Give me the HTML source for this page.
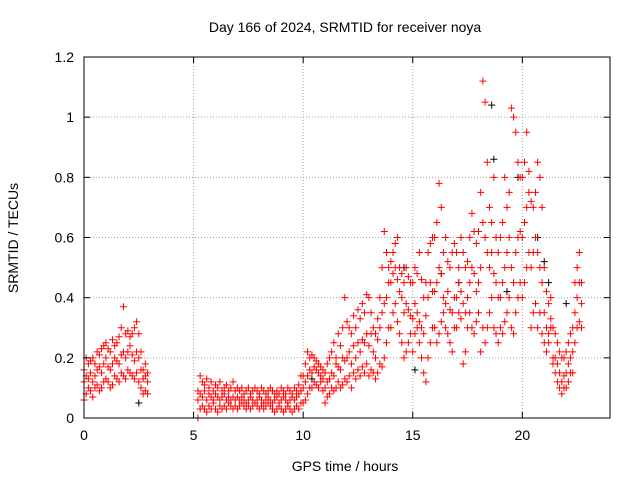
<!DOCTYPE html>
<html><head><meta charset="utf-8"><style>
body{margin:0;background:#fff;}
svg text{font-family:"Liberation Sans",sans-serif;font-size:14px;fill:#000;}
</style></head><body>
<svg id="chart" width="640" height="480" xmlns="http://www.w3.org/2000/svg">
<rect width="640" height="480" fill="#fff"/>
<g id="grid"></g>
<g id="pts"></g>
<rect x="84" y="57" width="526" height="361" fill="none" stroke="#000" stroke-width="1"/>
<g id="axes"></g>
<text x="345" y="32" text-anchor="middle">Day 166 of 2024, SRMTID for receiver noya</text>
<text x="345" y="471" text-anchor="middle">GPS time / hours</text>
<text x="18" y="238" text-anchor="middle" transform="rotate(-90 18 238)">SRMTID / TECUs</text>
</svg>
<script>
const xTicks=[0,5,10,15,20];
const yTicks=[0,0.2,0.4,0.6,0.8,1,1.2];
const yTickLabels=["0","0.2","0.4","0.6","0.8","1","1.2"];
const times=[0,0.1,0.2,0.3,0.4,0.5,0.6,0.7,0.8,0.9,1,1.1,1.2,1.3,1.4,1.5,1.6,1.7,1.8,1.9,2,2.1,2.2,2.3,2.4,2.5,2.6,2.7,2.8,2.9,
5.2,5.3,5.4,5.5,5.6,5.7,5.8,5.9,6,6.1,6.2,6.3,6.4,6.5,6.6,6.7,6.8,6.9,7,7.1,7.2,7.3,7.4,7.5,7.6,7.7,7.8,7.9,8,8.1,8.2,8.3,8.4,8.5,8.6,8.7,8.8,8.9,9,9.1,9.2,9.3,9.4,9.5,9.6,9.7,9.8,9.9,
10,10.1,10.2,10.3,10.4,10.5,10.6,10.7,10.8,10.9,11,11.1,11.2,11.3,11.4,11.5,11.6,11.7,11.8,11.9,12,12.1,12.2,12.3,12.4,12.5,12.6,12.7,12.8,12.9,13,13.1,13.2,13.3,13.4,13.5,13.6,13.7,13.8,13.9,14,14.1,14.2,14.3,14.4,14.5,14.6,14.7,14.8,14.9,15,15.1,15.2,15.3,15.4,15.5,15.6,15.7,15.8,15.9,16,16.1,16.2,16.3,16.4,16.5,16.6,16.7,16.8,16.9,17,17.1,17.2,17.3,17.4,17.5,17.6,17.7,17.8,17.9,18,18.1,18.2,18.3,18.4,18.5,18.6,18.7,18.8,18.9,19,19.1,19.2,19.3,19.4,19.5,19.6,19.7,19.8,19.9,20,20.1,20.2,20.3,20.4,20.5,20.6,20.7,20.8,20.9,21,21.1,21.2,21.3,21.4,21.5,21.6,21.7,21.8,21.9,22,22.1,22.2,22.3,22.4,22.5,22.6,22.7];
const valuesLow=[.06,.08,.1,.09,.07,.1,.11,.09,.1,.12,.13,.12,.1,.11,.14,.13,.12,.15,.14,.13,.16,.15,.14,.13,.15,.12,.1,.08,.09,.08,
0,.03,.04,.03,.02,.04,.03,.05,.03,.02,.04,.03,.04,.03,.05,.04,.03,.04,.03,.04,.05,.04,.03,.04,.03,.04,.05,.04,.03,.04,.03,.04,.05,.04,.03,.02,.03,.04,.03,.02,.03,.04,.03,.02,.03,.04,.03,.05,
.05,.06,.08,.1,.1,.12,.11,.1,.12,.09,.05,.07,.08,.1,.09,.1,.12,.1,.11,.13,.12,.14,.1,.15,.13,.16,.14,.17,.15,.18,.14,.16,.15,.13,.15,.18,.17,.2,.25,.3,.3,.35,.38,.32,.28,.25,.2,.22,.25,.28,.22,.28,.3,.25,.2,.15,.12,.2,.25,.3,.3,.25,.28,.32,.35,.3,.28,.25,.22,.3,.3,.35,.33,.18,.22,.3,.35,.3,.28,.32,.35,.22,.3,.25,.3,.35,.4,.3,.28,.25,.3,.28,.32,.35,.4,.3,.28,.35,.4,.45,.4,.45,.5,.55,.3,.35,.38,.3,.35,.28,.25,.22,.25,.3,.18,.15,.12,.1,.08,.1,.1,.12,.15,.15,.25,.3,.32,.3];
const valuesMid=[.12,.14,.13,.15,.12,.14,.16,.17,.15,.18,.2,.17,.16,.18,.2,.19,.18,.21,.22,.2,.22,.24,.21,.19,.22,.2,.16,.13,.14,.12,
.06,.08,.07,.09,.06,.08,.07,.06,.08,.07,.06,.07,.08,.06,.07,.06,.07,.06,.07,.06,.07,.06,.05,.06,.07,.06,.05,.06,.07,.06,.05,.06,.07,.06,.05,.06,.07,.05,.06,.07,.06,.05,.06,.07,.06,.07,.08,.09,
.1,.12,.14,.16,.15,.17,.16,.15,.14,.13,.1,.12,.13,.15,.14,.18,.17,.16,.2,.19,.2,.22,.18,.24,.2,.25,.22,.26,.25,.28,.24,.28,.22,.2,.26,.3,.35,.38,.4,.45,.45,.48,.5,.46,.42,.4,.35,.38,.36,.34,.33,.38,.35,.32,.3,.28,.34,.4,.45,.42,.42,.45,.5,.48,.4,.38,.42,.36,.35,.4,.4,.45,.42,.38,.35,.4,.45,.5,.48,.42,.45,.5,.65,.6,.55,.5,.55,.48,.45,.4,.4,.45,.5,.55,.6,.5,.45,.55,.6,.62,.6,.65,.7,.75,.5,.55,.6,.55,.5,.45,.35,.3,.28,.33,.2,.2,.18,.15,.12,.14,.15,.18,.2,.22,.35,.4,.45,.38];
const valuesHigh=[.16,.2,.18,.19,.2,.18,.22,.21,.23,.24,.25,.23,.22,.26,.24,.25,.27,.3,.37,.28,.29,.27,.28,.3,.32,.28,.22,.16,.18,.15,
.09,.14,.12,.11,.13,.1,.12,.09,.11,.1,.12,.09,.1,.11,.09,.1,.12,.09,.1,.09,.1,.08,.09,.1,.08,.09,.1,.09,.08,.1,.09,.08,.09,.1,.09,.08,.09,.08,.1,.09,.08,.1,.09,.08,.1,.09,.11,.14,
.14,.18,.22,.2,.21,.2,.19,.18,.17,.16,.15,.18,.2,.22,.25,.2,.28,.24,.3,.4,.32,.3,.28,.34,.3,.36,.33,.38,.35,.41,.4,.35,.3,.28,.33,.4,.5,.62,.55,.5,.52,.55,.58,.6,.5,.48,.45,.5,.47,.45,.45,.5,.48,.55,.46,.4,.45,.55,.58,.6,.6,.65,.78,.7,.55,.6,.52,.5,.55,.58,.55,.5,.6,.55,.5,.52,.6,.68,.62,.58,.62,.75,1.12,1.05,.85,.7,.65,.8,.6,.55,.6,.65,.8,.7,.75,1.03,1.0,.95,.85,.8,.8,.85,.95,.82,.72,.7,.75,.85,.8,.7,.5,.42,.38,.4,.3,.28,.25,.22,.2,.2,.22,.25,.28,.3,.45,.5,.55,.45];
const blackTimes=[18.6,18.7,19.8,20.7,21.0,21.2,15.1,17.1,22.0,10.4,2.5,14.6,16.3,19.3];
const blackValues=[1.04,.86,.8,.6,.52,.45,.16,.45,.38,.13,.05,.5,.48,.42];

const X0=84,X1=610,Y0=418,Y1=57;
const xs=t=>X0+(t/24)*(X1-X0);
const ys=v=>Y0-(v/1.2)*(Y0-Y1);
const NS="http://www.w3.org/2000/svg";
function mk(tag,attrs,parent){const e=document.createElementNS(NS,tag);for(const k in attrs)e.setAttribute(k,attrs[k]);parent.appendChild(e);return e;}
const grid=document.getElementById('grid'),axes=document.getElementById('axes'),pts=document.getElementById('pts');
xTicks.forEach(t=>{
  const x=xs(t);
  if(t>0){const g=mk('line',{x1:x,x2:x,y1:Y1,y2:Y0,stroke:'#a0a0a0','stroke-dasharray':'1,2'},grid);
  
  }
  mk('line',{x1:x,x2:x,y1:Y0,y2:Y0-6,stroke:'#000'},axes);
  mk('line',{x1:x,x2:x,y1:Y1,y2:Y1+6,stroke:'#000'},axes);
  const l=mk('text',{x:x,y:Y0+22,'text-anchor':'middle'},axes);l.textContent=t;
  
  
});
yTicks.forEach((v,i)=>{
  const y=ys(v);
  if(v>0&&v<1.2){const g=mk('line',{x1:X0,x2:X1,y1:y,y2:y,stroke:'#a0a0a0','stroke-dasharray':'1,2'},grid);
  
  }
  mk('line',{x1:X0,x2:X0+6,y1:y,y2:y,stroke:'#000'},axes);
  mk('line',{x1:X1,x2:X1-6,y1:y,y2:y,stroke:'#000'},axes);
  const l=mk('text',{x:X0-10,y:y+5,'text-anchor':'end'},axes);l.textContent=yTickLabels[i];
  
  
});
function plus(t,v,color){
  const x=xs(t),y=ys(v);
  const p=mk('path',{d:`M${x-3.5},${y}H${x+3.5}M${x},${y-3.5}V${y+3.5}`,stroke:color,'stroke-width':1,fill:'none'},pts);
  
  
}
blackTimes.forEach((t,i)=>plus(t,blackValues[i],'#000'));
[valuesLow,valuesMid,valuesHigh].forEach(arr=>times.forEach((t,i)=>plus(t,arr[i],'#ff0000')));
</script>
</body></html>
